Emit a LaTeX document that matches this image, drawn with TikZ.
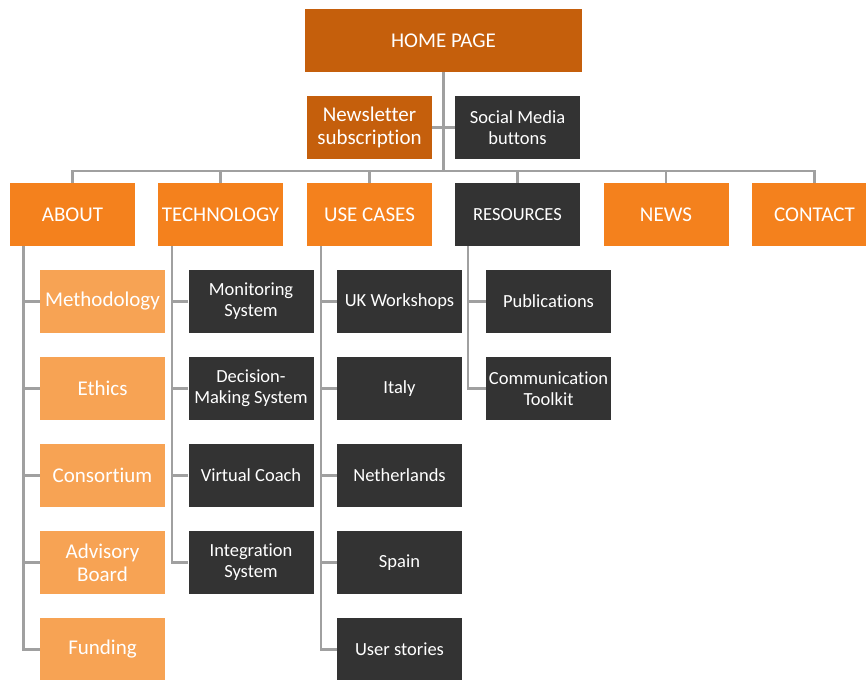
\documentclass[tikz,border=0pt]{standalone}
\usepackage{fontspec}
\setmainfont{Carlito}[Ligatures=NoCommon]
\definecolor{homeor}{HTML}{C55F0C}
\definecolor{mainor}{HTML}{F4811D}
\definecolor{lightor}{HTML}{F7A354}
\definecolor{darkbox}{HTML}{333333}
\definecolor{linegray}{HTML}{A0A0A0}
\tikzset{
  box/.style={rectangle, minimum width=125pt, minimum height=63pt, inner sep=0pt, text=white, align=center},
  bigtxt/.style={font=\fontsize{21}{23}\selectfont},
  smalltxt/.style={font=\fontsize{18.5}{21}\selectfont},
  homebox/.style={box, bigtxt, fill=homeor},
  orbox/.style={box, bigtxt, fill=mainor},
  ltbox/.style={box, bigtxt, fill=lightor},
  dkbox/.style={box, smalltxt, fill=darkbox},
  conn/.style={draw=linegray, line width=2.5pt}
}
\begin{document}
\begin{tikzpicture}[x=1pt, y=-1pt]
\useasboundingbox (0,0) rectangle (866,679);
% top
\node[homebox, minimum width=277pt] (home) at (443.5,40.5) {HOME PAGE};
\node[homebox] (nl) at (369.5,127.5) {Newsletter\\subscription};
\node[dkbox] (sm) at (517.5,127.5) {Social Media\\buttons};
% main row
\node[orbox] (about) at (72.5,214.5) {ABOUT};
\node[orbox] (tech) at (220.5,214.5) {TECHNOLOGY};
\node[orbox] (use) at (369.5,214.5) {USE CASES};
\node[dkbox] (res) at (517.5,214.5) {RESOURCES};
\node[orbox] (news) at (666,214.5) {NEWS};
\node[orbox] (contact) at (814.5,214.5) {CONTACT};
% about children
\node[ltbox] (meth) at (102.5,301.5) {Methodology};
\node[ltbox] (eth) at (102.5,388.5) {Ethics};
\node[ltbox] (cons) at (102.5,475.5) {Consortium};
\node[ltbox] (adv) at (102.5,562.5) {Advisory\\Board};
\node[ltbox] (fund) at (102.5,649.5) {Funding};
% technology children
\node[dkbox] (mon) at (251,301.5) {Monitoring\\System};
\node[dkbox] (dec) at (251,388.5) {Decision-\\Making System};
\node[dkbox] (vc) at (251,475.5) {Virtual Coach};
\node[dkbox] (int) at (251,562.5) {Integration\\System};
% use cases children
\node[dkbox] (uk) at (399.5,301.5) {UK Workshops};
\node[dkbox] (ita) at (399.5,388.5) {Italy};
\node[dkbox] (nld) at (399.5,475.5) {Netherlands};
\node[dkbox] (spa) at (399.5,562.5) {Spain};
\node[dkbox] (us) at (399.5,649.5) {User stories};
% resources children
\node[dkbox] (pub) at (548.5,301.5) {Publications};
\node[dkbox] (ctk) at (548.5,388.5) {Communication\\Toolkit};
% connectors
\coordinate (bus) at (443.5,171);
\draw[conn] (home.south) -- (bus);
\draw[conn] (nl.east) -- (sm.west);
\draw[conn, line join=miter] (about.north) |- (bus) -| (contact.north);
\foreach \n in {tech,use,res,news} \draw[conn] (\n.north) -- (\n.north |- bus);
% spines
\coordinate (sa) at ([xshift=13.5pt]about.south west);
\coordinate (st) at ([xshift=14pt]tech.south west);
\coordinate (su) at ([xshift=14pt]use.south west);
\coordinate (sr) at ([xshift=13pt]res.south west);
\draw[conn, line join=miter] (sa) |- (fund.west);
\foreach \c in {meth,eth,cons,adv} \draw[conn] (\c.west) -- (\c.west -| sa);
\draw[conn, line join=miter] (st) |- (int.west);
\foreach \c in {mon,dec,vc} \draw[conn] (\c.west) -- (\c.west -| st);
\draw[conn, line join=miter] (su) |- (us.west);
\foreach \c in {uk,ita,nld,spa} \draw[conn] (\c.west) -- (\c.west -| su);
\draw[conn, line join=miter] (sr) |- (ctk.west);
\draw[conn] (pub.west) -- (pub.west -| sr);
\end{tikzpicture}
\end{document}
